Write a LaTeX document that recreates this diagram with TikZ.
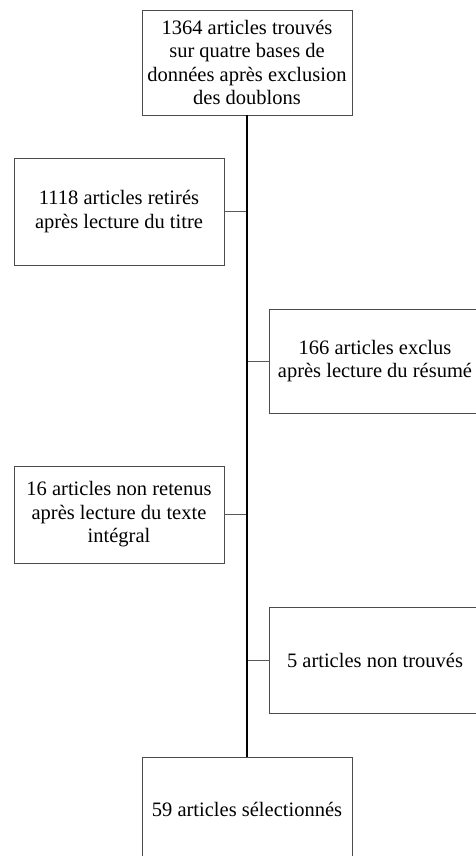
\documentclass[tikz,border=0pt]{standalone}
\usepackage{fontspec}
\setmainfont{Liberation Serif}
\begin{document}
\begin{tikzpicture}[x=1pt,y=-1pt,
  box/.style={draw=black!70,line width=0.8pt,align=center,inner sep=0pt,
    minimum width=210pt,font=\fontsize{20.5}{23.5}\selectfont},
  branch/.style={draw=black!65,line width=0.8pt},
  trunk/.style={draw=black,line width=1.8pt}]
\useasboundingbox (0,0) rectangle (476,856);
\clip (0,0) rectangle (476,856);
\node[box,minimum height=105pt] (trouves) at (247,62.5) {1364 articles trouvés\\sur quatre bases de\\données après exclusion\\des doublons};
\node[box,minimum height=107pt] (titre) at (119,211.5) {1118 articles retirés\\après lecture du titre};
\node[box,minimum height=104pt,minimum width=212pt] (resume) at (375,361) {166 articles exclus\\après lecture du résumé};
\node[box,minimum height=97pt] (texte) at (119,514.5) {16 articles non retenus\\après lecture du texte\\intégral};
\node[box,minimum height=106pt,minimum width=212pt] (absents) at (375,660) {5 articles non trouvés};
\node[box,minimum height=105pt] (selection) at (247,809.5) {59 articles sélectionnés};
\coordinate (b1) at (trouves.south |- titre.east);
\coordinate (b2) at (trouves.south |- resume.west);
\coordinate (b3) at (trouves.south |- texte.east);
\coordinate (b4) at (trouves.south |- absents.west);
\draw[branch] (b1) -- (titre.east);
\draw[branch] (b2) -- (resume.west);
\draw[branch] (b3) -- (texte.east);
\draw[branch] (b4) -- (absents.west);
\draw[trunk] (trouves.south) -- (selection.north);
\end{tikzpicture}
\end{document}
